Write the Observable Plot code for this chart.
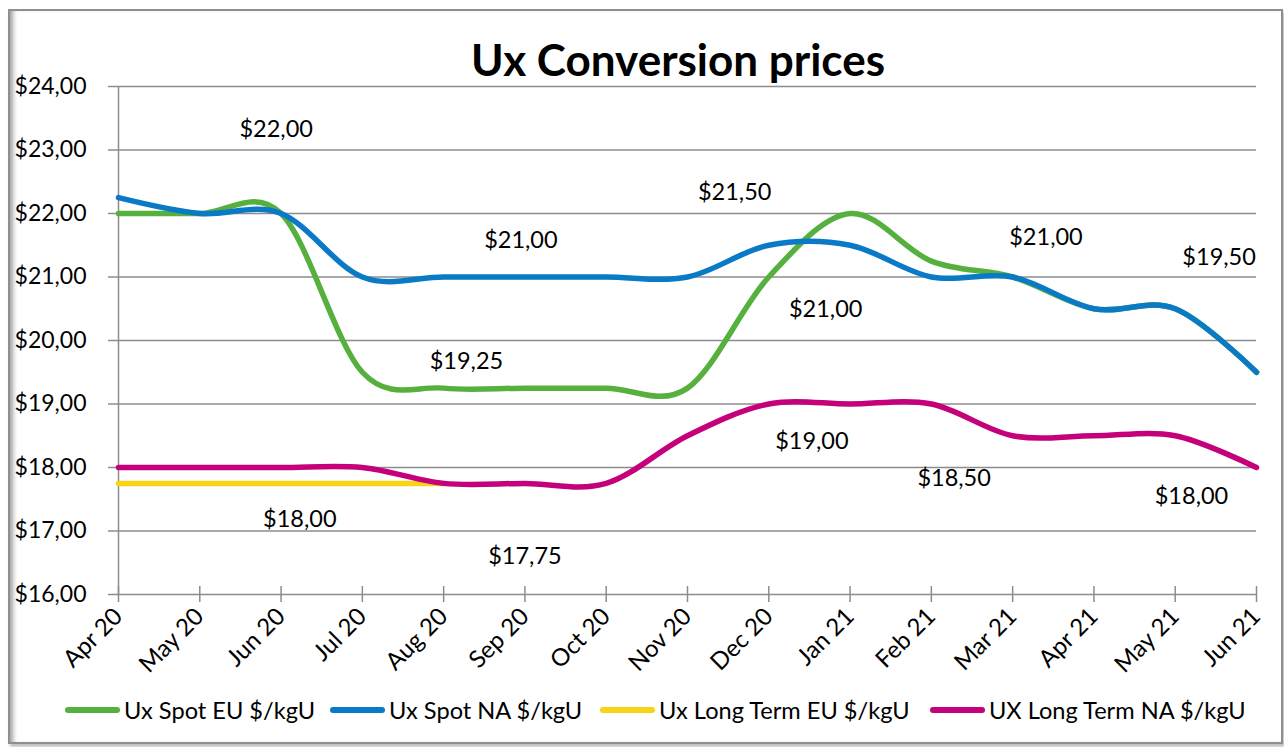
<!DOCTYPE html>
<html><head><meta charset="utf-8">
<script src="https://cdn.jsdelivr.net/npm/d3@7"></script>
<script src="https://cdn.jsdelivr.net/npm/@observablehq/plot@0.6"></script>
<style>
body{margin:0;background:#fff;font-family:Lato,"Open Sans",sans-serif;color:#000;}
#wrap{position:relative;width:1284px;height:747px;overflow:hidden;background:#fff;}
#frame{position:absolute;left:8px;top:9px;width:1271px;height:731px;border:2px solid #8f8f8f;box-shadow:inset 6px 0 5px -3px #a0a0a0, 2px 3px 3px rgba(0,0,0,.25);}
#title{position:absolute;left:278px;width:800px;top:37px;text-align:center;font-weight:bold;font-size:44px;line-height:44px;}
#chart{position:absolute;left:0;top:0;}
#legend{position:absolute;left:0;top:696px;width:1284px;height:28px;font-size:23.6px;line-height:28px;}
.item{position:absolute;top:0;display:flex;align-items:center;white-space:nowrap;}
.item:nth-child(1){left:65px;}
.item:nth-child(2){left:330px;}
.item:nth-child(3){left:600px;}
.item:nth-child(4){left:930px;}
.sw{width:55px;height:6px;border-radius:3px;margin-right:4px;}
</style>
</head><body>
<div id="wrap">
  <div id="frame"></div>
  <div id="chart"></div>
  <div id="title">Ux Conversion prices</div>
  <div id="legend"></div>
</div>
<script>
const months = ["Apr 20","May 20","Jun 20","Jul 20","Aug 20","Sep 20","Oct 20","Nov 20","Dec 20","Jan 21","Feb 21","Mar 21","Apr 21","May 21","Jun 21"];
const spotEU = [22,22,22,19.5,19.25,19.25,19.25,19.25,21,22,21.25,21,20.5,20.5,19.5];
const spotNA = [22.25,22,22,21,21,21,21,21,21.5,21.5,21,21,20.5,20.5,19.5];
const longEU = [17.75,17.75,17.75,17.75,17.75];
const longNA = [18,18,18,18,17.75,17.75,17.75,18.5,19,19,19,18.5,18.5,18.5,18];
const seriesNames = ["Ux Spot EU $/kgU","Ux Spot NA $/kgU","Ux Long Term EU $/kgU","UX Long Term NA $/kgU"];
const seriesColors = ["#55b03e","#0a7ac6","#f7d417","#c4007a"];
const yTicks = [16,17,18,19,20,21,22,23,24];
// data label annotations (as placed in the original chart)
const labelText = ["$22,00","$21,00","$21,50","$21,00","$19,50","$19,25","$21,00","$19,00","$18,50","$18,00","$18,00","$17,75"];
const labelX = [1.94,4.95,7.58,11.41,13.54,4.28,8.70,8.53,10.28,13.2,2.23,5.0];
const labelY = [23.32,21.57,22.33,21.62,21.31,19.67,20.49,18.41,17.83,17.54,17.18,16.60];

const seriesValues = [spotEU, spotNA, longEU, longNA];
const rows = [];
seriesValues.forEach((vals, s) => vals.forEach((v, i) => rows.push({s, i, v})));
const labels = labelText.map((t, k) => ({t, x: labelX[k], y: labelY[k]}));
const fmt = d => "$" + d.toFixed(2).replace(".", ",");
const idx = months.map((m, i) => i);

const plot = Plot.plot({
  width: 1284, height: 747,
  marginTop: 86, marginBottom: 153, marginLeft: 118, marginRight: 28,
  style: {fontFamily: "Lato, 'Open Sans', sans-serif", fontSize: "23px", color: "#000", background: "transparent", overflow: "visible"},
  x: {domain: [0, 14]},
  y: {domain: [16, 24]},
  marks: [
    Plot.ruleY(yTicks, {stroke: "#8c8c8c", strokeWidth: 1.5}),
    Plot.ruleX([0], {stroke: "#8c8c8c", strokeWidth: 1.5}),
    Plot.axisY(yTicks, {tickFormat: fmt, tickSize: 10, tickPadding: 22, stroke: "#8c8c8c", fill: "#000", strokeWidth: 1.5, label: null, fontSize: 23}),
    Plot.axisX(idx, {tickFormat: i => months[i], tickSize: 8, tickPadding: 10, tickRotate: -45, stroke: "#8c8c8c", fill: "#000", strokeWidth: 1.5, label: null, fontSize: 24}),
    Plot.axisX(idx, {tickFormat: () => "", tickSize: 8, dy: -8, stroke: "#8c8c8c", strokeWidth: 1.5, label: null}),
    ...seriesValues.map((vals, s) => Plot.line(rows.filter(r => r.s === s), {x: "i", y: "v", stroke: seriesColors[s], strokeWidth: 5.5, curve: "cardinal", strokeLinecap: "round", strokeLinejoin: "round"})),
    Plot.text(labels, {x: "x", y: "y", text: "t", fill: "#000", fontSize: 23.5})
  ]
});
document.getElementById("chart").appendChild(plot);

const lg = document.getElementById("legend");
seriesNames.forEach((n, s) => {
  const it = document.createElement("div"); it.className = "item";
  const sw = document.createElement("div"); sw.className = "sw"; sw.style.background = seriesColors[s];
  const tx = document.createElement("span"); tx.textContent = n;
  it.appendChild(sw); it.appendChild(tx); lg.appendChild(it);
});
</script>
</body></html>
